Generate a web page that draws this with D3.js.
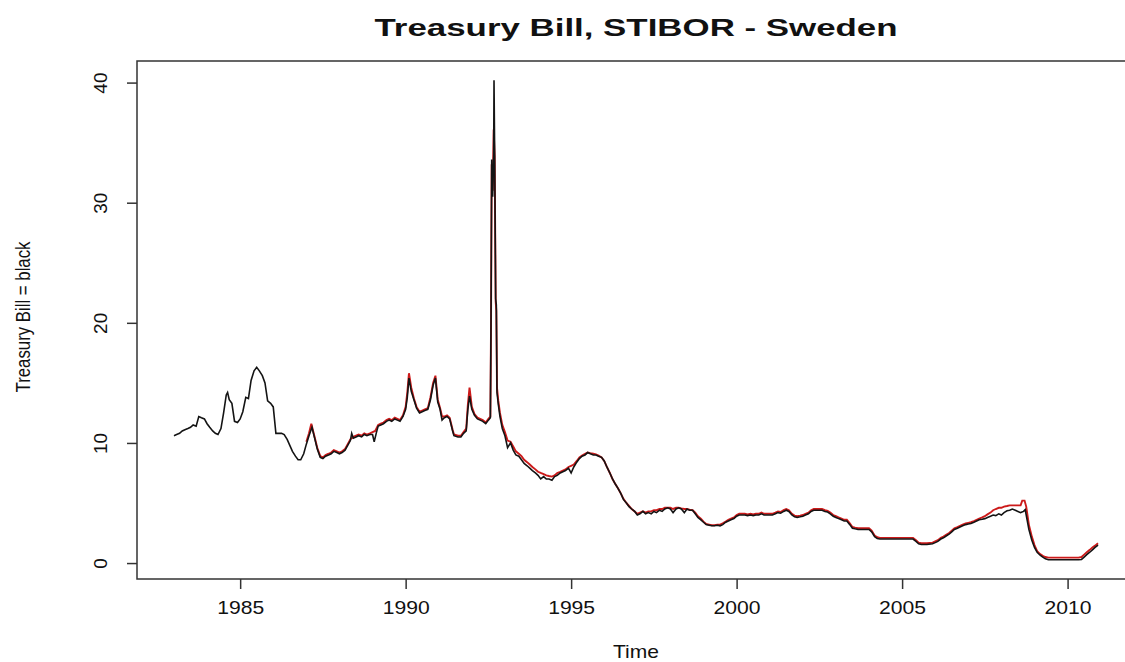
<!DOCTYPE html>
<html>
<head>
<meta charset="utf-8">
<script src="https://cdn.jsdelivr.net/npm/d3@7"></script>
<style>
  html, body { margin: 0; padding: 0; background: #fff; }
  svg { display: block; }
  text { font-family: "Liberation Sans", Arial, sans-serif; fill: #111; }
</style>
</head>
<body>
<svg id="chart" width="1125" height="662"></svg>
<script>
// Swedish treasury bill rate, [decimal year, percent]
const tbill = [
  [1983.00,10.6],[1983.08,10.7],[1983.17,10.8],[1983.25,11.0],[1983.33,11.1],[1983.42,11.2],
  [1983.50,11.3],[1983.58,11.5],[1983.67,11.4],[1983.75,12.2],[1983.83,12.1],[1983.92,12.0],
  [1984.00,11.6],[1984.08,11.3],[1984.17,11.0],[1984.25,10.8],[1984.33,10.7],[1984.42,11.2],
  [1984.50,12.5],[1984.58,14.0],[1984.62,14.2],[1984.67,13.6],[1984.75,13.3],[1984.83,11.8],
  [1984.92,11.7],[1985.00,12.0],[1985.08,12.6],[1985.17,13.8],[1985.25,13.7],[1985.33,15.2],
  [1985.42,16.0],[1985.50,16.3],[1985.58,16.0],[1985.67,15.6],[1985.75,15.0],[1985.83,13.5],
  [1985.92,13.3],[1986.00,13.0],[1986.08,10.8],[1986.17,10.8],[1986.25,10.8],[1986.33,10.7],
  [1986.42,10.3],[1986.50,9.8],[1986.58,9.3],[1986.67,8.9],[1986.75,8.6],[1986.83,8.6],
  [1986.92,9.1],[1987.00,9.9],[1987.08,10.6],[1987.17,11.3],[1987.25,10.4],[1987.33,9.5],
  [1987.42,8.8],[1987.50,8.7],[1987.58,8.9],[1987.67,9.0],[1987.75,9.1],[1987.83,9.3],
  [1987.92,9.2],[1988.00,9.1],[1988.08,9.2],[1988.17,9.4],[1988.25,9.8],[1988.33,10.2],
  [1988.37,10.8],[1988.42,10.4],[1988.50,10.5],[1988.58,10.6],[1988.67,10.5],[1988.75,10.7],
  [1988.83,10.6],[1988.92,10.7],[1989.00,10.7],[1989.05,10.1],[1989.12,10.9],[1989.17,11.4],
  [1989.25,11.5],[1989.33,11.6],[1989.42,11.8],[1989.50,11.9],[1989.58,11.8],[1989.67,12.0],
  [1989.75,11.9],[1989.83,11.8],[1989.92,12.2],[1990.00,12.8],[1990.05,13.8],[1990.10,15.4],
  [1990.17,14.3],[1990.25,13.6],[1990.33,12.9],[1990.42,12.5],[1990.50,12.6],[1990.58,12.7],
  [1990.67,12.8],[1990.75,13.6],[1990.83,14.8],[1990.90,15.4],[1990.97,13.4],[1991.04,12.8],
  [1991.10,11.9],[1991.17,12.1],[1991.25,12.2],[1991.33,12.0],[1991.42,11.0],[1991.46,10.6],
  [1991.58,10.5],[1991.67,10.5],[1991.75,10.8],[1991.83,11.0],[1991.88,12.8],[1991.93,13.9],
  [1992.00,12.8],[1992.08,12.3],[1992.17,12.0],[1992.25,11.9],[1992.33,11.8],[1992.42,11.6],
  [1992.50,11.9],[1992.56,12.1],[1992.58,20.2],[1992.60,33.6],[1992.63,30.5],[1992.66,34.0],
  [1992.67,40.2],[1992.69,34.0],[1992.72,22.0],[1992.74,21.5],[1992.76,14.2],[1992.80,13.2],
  [1992.85,12.2],[1992.92,11.2],[1993.00,10.6],[1993.08,9.6],[1993.17,10.0],[1993.25,9.4],
  [1993.33,9.0],[1993.42,8.9],[1993.50,8.6],[1993.58,8.3],[1993.67,8.1],[1993.75,7.9],
  [1993.83,7.7],[1993.92,7.5],[1994.00,7.3],[1994.08,7.0],[1994.17,7.2],[1994.25,7.0],
  [1994.33,7.0],[1994.42,6.9],[1994.50,7.2],[1994.58,7.3],[1994.67,7.5],[1994.75,7.6],
  [1994.83,7.7],[1994.92,7.9],[1995.00,7.5],[1995.08,8.0],[1995.17,8.4],[1995.25,8.7],
  [1995.33,8.9],[1995.42,9.0],[1995.50,9.2],[1995.58,9.1],[1995.67,9.0],[1995.75,9.0],
  [1995.83,8.9],[1995.92,8.8],[1996.00,8.5],[1996.08,8.0],[1996.17,7.5],[1996.25,7.0],
  [1996.33,6.6],[1996.42,6.2],[1996.50,5.8],[1996.58,5.3],[1996.67,5.0],[1996.75,4.7],
  [1996.83,4.5],[1996.92,4.3],[1997.00,4.0],[1997.08,4.1],[1997.17,4.3],[1997.25,4.1],
  [1997.33,4.2],[1997.42,4.1],[1997.50,4.3],[1997.58,4.2],[1997.67,4.4],[1997.75,4.3],
  [1997.83,4.5],[1997.92,4.6],[1998.00,4.5],[1998.08,4.2],[1998.17,4.5],[1998.25,4.6],
  [1998.33,4.5],[1998.42,4.2],[1998.50,4.5],[1998.58,4.4],[1998.67,4.4],[1998.75,4.1],
  [1998.83,3.8],[1998.92,3.6],[1999.00,3.4],[1999.08,3.2],[1999.17,3.15],[1999.25,3.1],
  [1999.33,3.1],[1999.42,3.15],[1999.50,3.1],[1999.58,3.2],[1999.67,3.4],[1999.75,3.5],
  [1999.83,3.6],[1999.92,3.7],[2000.00,3.9],[2000.08,4.0],[2000.17,4.0],[2000.25,4.0],
  [2000.33,3.95],[2000.42,4.0],[2000.50,3.95],[2000.58,4.0],[2000.67,4.0],[2000.75,4.1],
  [2000.83,4.0],[2000.92,4.0],[2001.00,4.0],[2001.08,4.0],[2001.17,4.1],[2001.25,4.2],
  [2001.33,4.15],[2001.42,4.3],[2001.50,4.4],[2001.58,4.3],[2001.67,4.0],[2001.75,3.85],
  [2001.83,3.8],[2001.92,3.85],[2002.00,3.9],[2002.08,4.0],[2002.17,4.1],[2002.25,4.3],
  [2002.33,4.4],[2002.42,4.4],[2002.50,4.4],[2002.58,4.4],[2002.67,4.3],[2002.75,4.25],
  [2002.83,4.1],[2002.92,3.9],[2003.00,3.8],[2003.08,3.7],[2003.17,3.6],[2003.25,3.5],
  [2003.33,3.5],[2003.42,3.2],[2003.50,2.9],[2003.58,2.85],[2003.67,2.8],[2003.75,2.8],
  [2003.83,2.8],[2003.92,2.8],[2004.00,2.8],[2004.08,2.6],[2004.17,2.2],[2004.25,2.05],
  [2004.33,2.0],[2004.50,2.0],[2004.67,2.0],[2004.83,2.0],[2005.00,2.0],[2005.17,2.0],
  [2005.33,2.0],[2005.42,1.8],[2005.50,1.6],[2005.58,1.55],[2005.75,1.55],[2005.92,1.6],
  [2006.00,1.7],[2006.08,1.8],[2006.17,2.0],[2006.25,2.1],[2006.33,2.25],[2006.42,2.4],
  [2006.50,2.6],[2006.58,2.8],[2006.67,2.9],[2006.75,3.0],[2006.83,3.1],[2006.92,3.2],
  [2007.00,3.25],[2007.08,3.3],[2007.17,3.4],[2007.25,3.5],[2007.33,3.6],[2007.42,3.65],
  [2007.50,3.7],[2007.58,3.8],[2007.67,3.9],[2007.75,4.0],[2007.83,3.95],[2007.92,4.1],
  [2008.00,4.0],[2008.08,4.2],[2008.17,4.35],[2008.25,4.4],[2008.33,4.5],[2008.42,4.4],
  [2008.50,4.3],[2008.58,4.2],[2008.67,4.3],[2008.72,4.45],[2008.75,4.0],[2008.83,2.8],
  [2008.92,1.9],[2009.00,1.3],[2009.08,0.9],[2009.17,0.65],[2009.25,0.5],[2009.33,0.35],
  [2009.42,0.27],[2009.67,0.27],[2009.92,0.27],[2010.17,0.27],[2010.33,0.27],[2010.42,0.3],
  [2010.50,0.5],[2010.58,0.7],[2010.67,0.9],[2010.75,1.1],[2010.83,1.3],[2010.92,1.5]
];

// STIBOR, [decimal year, percent]
const stibor = [
  [1987.00,10.1],[1987.08,10.8],[1987.15,11.6],[1987.25,10.5],[1987.33,9.6],[1987.42,8.9],
  [1987.50,8.8],[1987.58,9.0],[1987.67,9.1],[1987.75,9.2],[1987.83,9.4],[1987.92,9.3],
  [1988.00,9.2],[1988.08,9.3],[1988.17,9.5],[1988.25,9.9],[1988.33,10.3],[1988.42,10.5],
  [1988.50,10.6],[1988.58,10.7],[1988.67,10.6],[1988.75,10.8],[1988.83,10.7],[1988.92,10.8],
  [1989.00,10.9],[1989.08,11.0],[1989.17,11.5],[1989.25,11.6],[1989.33,11.7],[1989.42,11.9],
  [1989.50,12.0],[1989.58,11.9],[1989.67,12.1],[1989.75,12.0],[1989.83,11.9],[1989.92,12.3],
  [1990.00,13.0],[1990.05,14.2],[1990.10,15.8],[1990.17,14.6],[1990.25,13.7],[1990.33,13.0],
  [1990.42,12.6],[1990.50,12.7],[1990.58,12.8],[1990.67,12.9],[1990.75,13.8],[1990.83,15.0],
  [1990.90,15.6],[1990.97,13.6],[1991.04,12.9],[1991.10,12.2],[1991.17,12.2],[1991.25,12.3],
  [1991.33,12.1],[1991.42,11.1],[1991.46,10.7],[1991.58,10.6],[1991.67,10.6],[1991.75,10.9],
  [1991.83,11.2],[1991.88,13.2],[1991.93,14.6],[1992.00,13.0],[1992.08,12.4],[1992.17,12.1],
  [1992.25,12.0],[1992.33,11.9],[1992.42,11.7],[1992.50,12.0],[1992.56,12.2],[1992.58,19.8],
  [1992.60,33.2],[1992.63,31.0],[1992.66,36.1],[1992.69,33.8],[1992.72,21.8],[1992.74,21.0],
  [1992.76,14.6],[1992.80,13.5],[1992.85,12.5],[1992.92,11.5],[1993.00,10.9],[1993.08,10.2],
  [1993.17,10.1],[1993.25,9.7],[1993.33,9.3],[1993.42,9.1],[1993.50,8.9],[1993.58,8.6],
  [1993.67,8.4],[1993.75,8.2],[1993.83,8.0],[1993.92,7.8],[1994.00,7.6],[1994.08,7.5],
  [1994.17,7.4],[1994.25,7.3],[1994.33,7.25],[1994.42,7.2],[1994.50,7.3],[1994.58,7.5],
  [1994.67,7.6],[1994.75,7.7],[1994.83,7.8],[1994.92,8.0],[1995.00,8.1],[1995.08,8.2],
  [1995.17,8.5],[1995.25,8.8],[1995.33,8.95],[1995.42,9.1],[1995.50,9.2],[1995.58,9.15],
  [1995.67,9.1],[1995.75,9.05],[1995.83,8.95],[1995.92,8.8],[1996.00,8.5],[1996.08,8.0],
  [1996.17,7.5],[1996.25,7.0],[1996.33,6.6],[1996.42,6.2],[1996.50,5.8],[1996.58,5.35],
  [1996.67,5.0],[1996.75,4.75],[1996.83,4.5],[1996.92,4.3],[1997.00,4.1],[1997.08,4.2],
  [1997.17,4.3],[1997.25,4.2],[1997.33,4.3],[1997.42,4.3],[1997.50,4.4],[1997.58,4.4],
  [1997.67,4.5],[1997.75,4.5],[1997.83,4.6],[1997.92,4.6],[1998.00,4.6],[1998.08,4.5],
  [1998.17,4.6],[1998.25,4.6],[1998.33,4.55],[1998.42,4.5],[1998.50,4.5],[1998.58,4.45],
  [1998.67,4.4],[1998.75,4.2],[1998.83,3.9],[1998.92,3.7],[1999.00,3.45],[1999.08,3.25],
  [1999.17,3.2],[1999.25,3.15],[1999.33,3.15],[1999.42,3.2],[1999.50,3.2],[1999.58,3.3],
  [1999.67,3.45],[1999.75,3.6],[1999.83,3.7],[1999.92,3.8],[2000.00,4.0],[2000.08,4.1],
  [2000.17,4.1],[2000.25,4.1],[2000.33,4.05],[2000.42,4.1],[2000.50,4.05],[2000.58,4.1],
  [2000.67,4.1],[2000.75,4.2],[2000.83,4.1],[2000.92,4.1],[2001.00,4.1],[2001.08,4.1],
  [2001.17,4.2],[2001.25,4.3],[2001.33,4.25],[2001.42,4.4],[2001.50,4.5],[2001.58,4.4],
  [2001.67,4.1],[2001.75,3.95],[2001.83,3.9],[2001.92,3.95],[2002.00,4.0],[2002.08,4.1],
  [2002.17,4.2],[2002.25,4.4],[2002.33,4.5],[2002.42,4.5],[2002.50,4.5],[2002.58,4.5],
  [2002.67,4.4],[2002.75,4.35],[2002.83,4.2],[2002.92,4.0],[2003.00,3.9],[2003.08,3.8],
  [2003.17,3.7],[2003.25,3.6],[2003.33,3.6],[2003.42,3.3],[2003.50,3.0],[2003.58,2.95],
  [2003.67,2.9],[2003.75,2.9],[2003.83,2.9],[2003.92,2.9],[2004.00,2.9],[2004.08,2.7],
  [2004.17,2.3],[2004.25,2.15],[2004.33,2.1],[2004.50,2.1],[2004.67,2.1],[2004.83,2.1],
  [2005.00,2.1],[2005.17,2.1],[2005.33,2.1],[2005.42,1.9],[2005.50,1.7],[2005.58,1.65],
  [2005.75,1.65],[2005.92,1.7],[2006.00,1.8],[2006.08,1.9],[2006.17,2.1],[2006.25,2.2],
  [2006.33,2.35],[2006.42,2.5],[2006.50,2.7],[2006.58,2.9],[2006.67,3.0],[2006.75,3.1],
  [2006.83,3.2],[2006.92,3.3],[2007.00,3.35],[2007.08,3.4],[2007.17,3.5],[2007.25,3.6],
  [2007.33,3.7],[2007.42,3.8],[2007.50,3.9],[2007.58,4.05],[2007.67,4.2],[2007.75,4.4],
  [2007.83,4.5],[2007.92,4.6],[2008.00,4.6],[2008.08,4.7],[2008.17,4.75],[2008.25,4.8],
  [2008.33,4.8],[2008.42,4.8],[2008.50,4.8],[2008.58,4.8],[2008.63,5.2],[2008.70,5.2],
  [2008.75,4.7],[2008.83,3.2],[2008.92,2.2],[2009.00,1.5],[2009.08,1.0],[2009.17,0.75],
  [2009.25,0.6],[2009.33,0.5],[2009.42,0.45],[2009.67,0.45],[2009.92,0.45],[2010.17,0.45],
  [2010.33,0.45],[2010.42,0.5],[2010.50,0.7],[2010.58,0.9],[2010.67,1.1],[2010.75,1.3],
  [2010.83,1.45],[2010.92,1.65]
];

const xTickYears = [1985, 1990, 1995, 2000, 2005, 2010];
const yTickValues = [0, 10, 20, 30, 40];

const titleText = "Treasury Bill, STIBOR - Sweden";
const xLabel = "Time";
const yLabel = "Treasury Bill = black";

// Plot region (R-style box, right edge runs past the canvas)
const box = { left: 137, right: 1135, top: 61, bottom: 579 };
const FONT = "Liberation Sans, Arial, sans-serif";

const svg = d3.select("#chart");
svg.append("rect").attr("width", 1125).attr("height", 662).attr("fill", "#fff");

// Data range padded by 4% on each side, as R does
function padded(ext) {
  const d = (ext[1] - ext[0]) * 0.04;
  return [ext[0] - d, ext[1] + d];
}
const allPts = tbill.concat(stibor);
const x = d3.scaleLinear()
  .domain(padded(d3.extent(allPts, d => d[0])))
  .range([box.left, box.right]);
const y = d3.scaleLinear()
  .domain(padded(d3.extent(allPts, d => d[1])))
  .range([box.bottom, box.top]);

const line = d3.line().x(d => x(d[0])).y(d => y(d[1]));

const plot = svg.append("g");

plot.append("path")
  .datum(stibor)
  .attr("d", line)
  .attr("fill", "none")
  .attr("stroke", "#cc1a1a")
  .attr("stroke-width", 1.9)
  .attr("stroke-linejoin", "miter");

plot.append("path")
  .datum(tbill)
  .attr("d", line)
  .attr("fill", "none")
  .attr("stroke", "#141414")
  .attr("stroke-width", 1.6)
  .attr("stroke-linejoin", "miter");

// Frame
svg.append("rect")
  .attr("x", box.left).attr("y", box.top)
  .attr("width", box.right - box.left).attr("height", box.bottom - box.top)
  .attr("fill", "none").attr("stroke", "#333").attr("stroke-width", 1.5);

// Bottom axis
const xAxis = d3.axisBottom(x).tickValues(xTickYears).tickSize(10).tickPadding(12)
  .tickFormat(d3.format("d"));
const gx = svg.append("g").attr("transform", `translate(0,${box.bottom})`).call(xAxis);
gx.select(".domain").remove();
gx.selectAll(".tick line").attr("stroke", "#333").attr("stroke-width", 1.5);
gx.selectAll(".tick text")
  .attr("y", 22).attr("dy", "0.71em")
  .attr("font-size", 19).attr("font-family", FONT)
  .attr("textLength", 47).attr("lengthAdjust", "spacingAndGlyphs")
  .attr("fill", "#222");

// Left axis, labels parallel to the axis
const yAxis = d3.axisLeft(y).tickValues(yTickValues).tickSize(10).tickFormat(d3.format("d"));
const gy = svg.append("g").attr("transform", `translate(${box.left},0)`).call(yAxis);
gy.select(".domain").remove();
gy.selectAll(".tick line").attr("stroke", "#333").attr("stroke-width", 1.5);
gy.selectAll(".tick text")
  .attr("x", 0).attr("dy", 0)
  .attr("transform", "translate(-30,0) rotate(-90)")
  .attr("text-anchor", "middle")
  .attr("font-size", 19).attr("font-family", FONT)
  .attr("fill", "#222");

// Titles
const cx = (box.left + box.right) / 2;
svg.append("text")
  .attr("x", cx).attr("y", 36)
  .attr("text-anchor", "middle")
  .attr("font-size", 23).attr("font-weight", "bold")
  .attr("textLength", 523).attr("lengthAdjust", "spacingAndGlyphs")
  .text(titleText);

svg.append("text")
  .attr("x", cx).attr("y", 658)
  .attr("text-anchor", "middle")
  .attr("font-size", 19).attr("fill", "#222")
  .attr("textLength", 46).attr("lengthAdjust", "spacingAndGlyphs")
  .text(xLabel);

svg.append("text")
  .attr("transform", `translate(30,317) rotate(-90)`)
  .attr("text-anchor", "middle")
  .attr("font-size", 19.5).attr("fill", "#222")
  .attr("textLength", 151).attr("lengthAdjust", "spacingAndGlyphs")
  .text(yLabel);
</script>
</body>
</html>
